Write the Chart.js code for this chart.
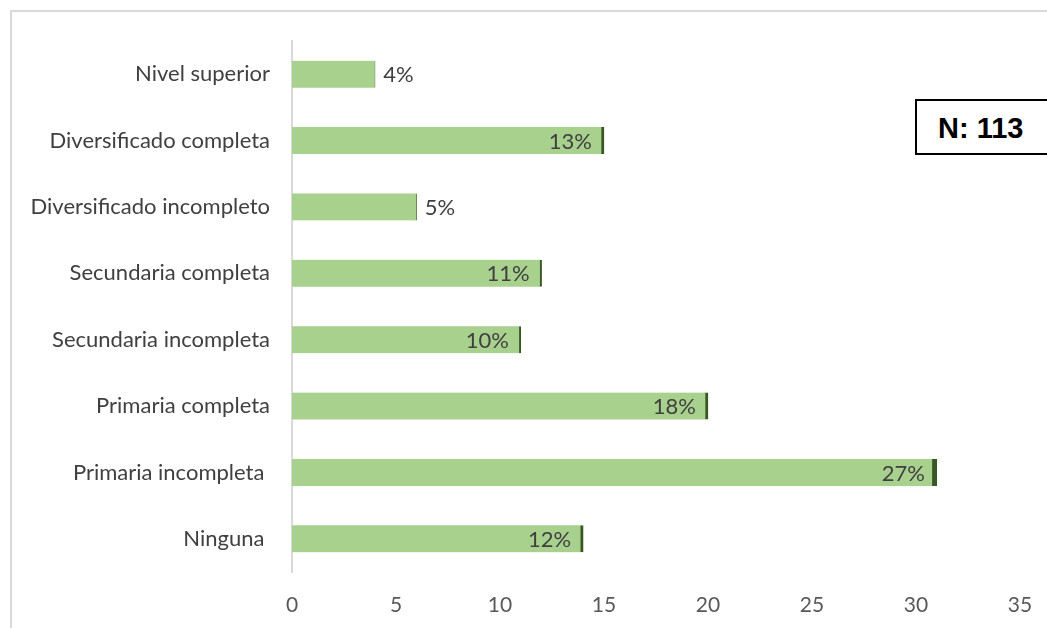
<!DOCTYPE html>
<html>
<head>
<meta charset="utf-8">
<script src="https://cdn.jsdelivr.net/npm/chart.js@4.4.0/dist/chart.umd.min.js"></script>
<style>
  html, body { margin: 0; padding: 0; background: #fff; overflow: hidden; }
  #wrap { position: absolute; left: 0; top: 0; width: 1047px; height: 628px; }
  #nBox {
    position: absolute; left: 915px; top: 99px; width: 160px; height: 52px;
    border: 2px solid #000; background: #fff;
    font: bold 29px "Liberation Sans", Arial, sans-serif; color: #000;
    line-height: 54px; padding-left: 21px; box-sizing: content-box;
  }
</style>
</head>
<body>
<div id="wrap">
  <canvas id="chart" width="1047" height="628"></canvas>
  <div id="nBox">N: 113</div>
</div>
<script>
// Education level, number of people
const levels = [
  "Nivel superior",
  "Diversificado completa",
  "Diversificado incompleto",
  "Secundaria completa",
  "Secundaria incompleta",
  "Primaria completa",
  "Primaria incompleta ",
  "Ninguna "
];
const counts = [4, 15, 6, 12, 11, 20, 31, 14];
const total = 113;
const xTicks = [0, 5, 10, 15, 20, 25, 30, 35];

// dark cap on the end of each bar
const capWidths = [1, 3, 1, 2, 2, 3, 5, 3];
const capColors = ["#8aa57a", "#385723", "#5f7f4c", "#385723", "#385723", "#385723", "#385723", "#385723"];

const FONT = "Lato, 'Open Sans', sans-serif";

// light frame along the top and left edges
const framePlugin = {
  id: "frame",
  beforeDraw(chart) {
    const ctx = chart.ctx;
    ctx.save();
    ctx.strokeStyle = "#d9d9d9";
    ctx.lineWidth = 2;
    ctx.beginPath();
    ctx.moveTo(11, 628);
    ctx.lineTo(11, 11);
    ctx.lineTo(1047, 11);
    ctx.stroke();
    ctx.restore();
  }
};

// percentage labels: inside the bar end when it fits, otherwise after it
const pctLabels = {
  id: "pctLabels",
  afterDatasetsDraw(chart) {
    const ctx = chart.ctx;
    const meta = chart.getDatasetMeta(0);
    ctx.save();
    ctx.font = "22px " + FONT;
    ctx.fillStyle = "#404040";
    ctx.textBaseline = "middle";
    meta.data.forEach((bar, i) => {
      const txt = Math.round(counts[i] / total * 100) + "%";
      const barLen = bar.x - bar.base;
      if (barLen > 150) {
        ctx.textAlign = "right";
        ctx.fillText(txt, bar.x - 12, bar.y + 1);
      } else {
        ctx.textAlign = "left";
        ctx.fillText(txt, bar.x + 8, bar.y + 1);
      }
    });
    ctx.restore();
  }
};

const ctx = document.getElementById("chart").getContext("2d");
new Chart(ctx, {
  type: "bar",
  data: {
    labels: levels,
    datasets: [{
      data: counts,
      backgroundColor: "#a9d18e",
      borderColor: capColors,
      borderWidth: capWidths.map(w => ({ top: 0, bottom: 0, left: 0, right: w })),
      borderSkipped: false,
      barThickness: 27
    }]
  },
  options: {
    indexAxis: "y",
    responsive: false,
    animation: false,
    layout: { padding: { top: 41, right: 27, left: 0, bottom: 0 } },
    plugins: { legend: { display: false }, tooltip: { enabled: false } },
    scales: {
      x: {
        min: 0,
        max: 35,
        afterBuildTicks(scale) { scale.ticks = xTicks.map(v => ({ value: v })); },
        grid: { display: false, drawTicks: false },
        border: { display: false },
        ticks: { color: "#595959", font: { family: FONT, size: 21 }, padding: 21 },
        afterFit(scale) {
          scale.height = 56;
          scale.paddingLeft = 0;
          scale.paddingRight = 0;
        }
      },
      y: {
        grid: { display: false, drawTicks: false },
        border: { display: true, color: "#d9d9d9", width: 2 },
        ticks: { color: "#404040", font: { family: FONT, size: 22 }, padding: 22 },
        afterFit(scale) { scale.width = 292; }
      }
    }
  },
  plugins: [framePlugin, pctLabels]
});
</script>
</body>
</html>
